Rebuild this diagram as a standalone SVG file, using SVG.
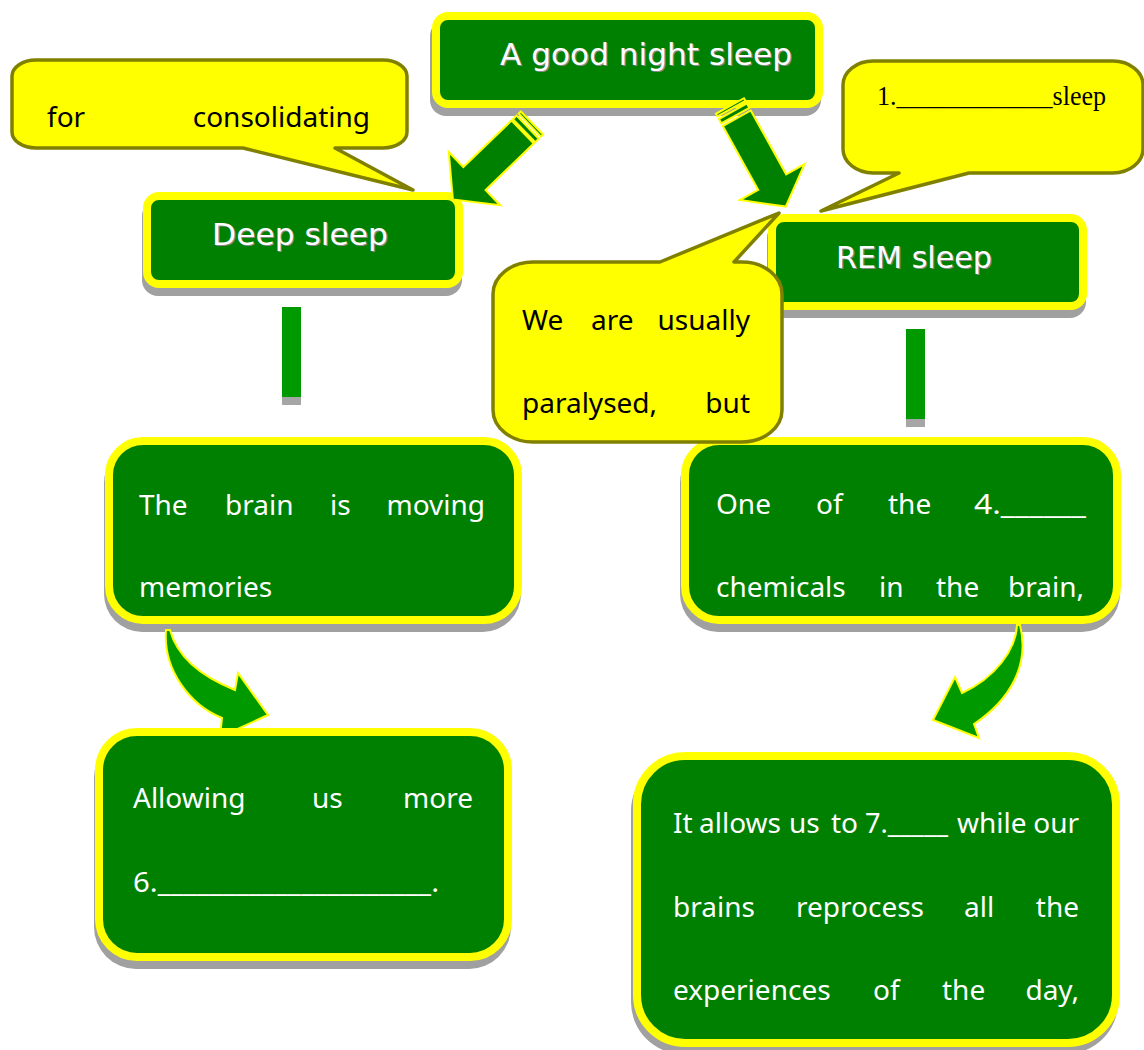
<svg xmlns="http://www.w3.org/2000/svg" width="1144" height="1050" viewBox="0 0 1144 1050">
  <style>
    .shadow { fill: #A0A0A0; }
    .box { fill: #008000; stroke: #FFFF00; stroke-width: 8; }
    .title { font-family: "DejaVu Sans", "Liberation Sans", sans-serif; font-size: 30px; fill: #FFFFFF; }
    .title-sh { font-family: "DejaVu Sans", "Liberation Sans", sans-serif; font-size: 30px; fill: #8A8A8A; }
    .body { font-family: "Noto Sans", "Open Sans", sans-serif; font-size: 28px; fill: #FFFFFF; }
    .callout { fill: #FFFF00; stroke: #808000; stroke-width: 3.5; stroke-linejoin: round; }
    .ctext { font-family: "Noto Sans", "Open Sans", sans-serif; font-size: 28px; fill: #000000; }
    .serif { font-family: "Liberation Serif", "Times New Roman", serif; font-size: 27px; fill: #000000; }
    .bar { fill: #009900; }
    .bar-sh { fill: #A6A6A6; }
    .block { fill: #008000; stroke: #FFFF00; stroke-width: 2; stroke-linejoin: miter; }
    .curve { fill: #009900; stroke: #FFFF00; stroke-width: 2; stroke-linejoin: miter; }
    .end { text-anchor: end; }
  </style>

  <!-- upper nodes -->
  <g id="node-good-night">
    <rect class="shadow" x="430" y="20" width="391" height="96" rx="16"/>
    <rect class="box" x="436" y="16" width="383" height="88" rx="12"/>
    <text class="title-sh" x="501.2" y="66.2" textLength="292" lengthAdjust="spacingAndGlyphs">A good night sleep</text>
    <text class="title" x="500" y="65" textLength="292" lengthAdjust="spacingAndGlyphs">A good night sleep</text>
  </g>

  <g id="node-deep">
    <rect class="shadow" x="142" y="200" width="320" height="96" rx="16"/>
    <rect class="box" x="147" y="196" width="312" height="88" rx="12"/>
    <text class="title-sh" x="213.2" y="246.2" textLength="176" lengthAdjust="spacingAndGlyphs">Deep sleep</text>
    <text class="title" x="212" y="245" textLength="176" lengthAdjust="spacingAndGlyphs">Deep sleep</text>
  </g>

  <g id="node-rem">
    <rect class="shadow" x="767" y="222" width="319" height="96" rx="16"/>
    <rect class="box" x="772" y="218" width="311" height="88" rx="12"/>
    <text class="title-sh" x="837.2" y="269.2" textLength="156" lengthAdjust="spacingAndGlyphs">REM sleep</text>
    <text class="title" x="836" y="268" textLength="156" lengthAdjust="spacingAndGlyphs">REM sleep</text>
  </g>

  <g id="node-brain">
    <rect class="shadow" x="104" y="445" width="417" height="187" rx="38"/>
    <rect class="box" x="109" y="441" width="409" height="179" rx="34"/>
    <text class="body"><tspan x="139" y="515">The</tspan><tspan x="225" y="515">brain</tspan><tspan x="330" y="515">is</tspan><tspan class="end" x="485" y="515">moving</tspan><tspan x="139" y="597">memories</tspan></text>
  </g>

  <g id="node-chemicals">
    <rect class="shadow" x="680" y="445" width="440" height="187" rx="38"/>
    <rect class="box" x="685" y="441" width="432" height="179" rx="34"/>
    <text class="body"><tspan x="716" y="514">One</tspan><tspan x="816" y="514">of</tspan><tspan x="888" y="514">the</tspan><tspan x="974" y="514" textLength="112" lengthAdjust="spacingAndGlyphs">4.______</tspan><tspan x="716" y="597">chemicals</tspan><tspan x="879" y="597">in</tspan><tspan x="936" y="597">the</tspan><tspan class="end" x="1084" y="597">brain,</tspan></text>
  </g>

  <!-- connectors -->
  <g id="connectors">
    <!-- block arrows from the top node -->
    <g transform="translate(532,123) rotate(136)">
      <rect class="block" x="0" y="-16" width="3" height="32"/>
      <rect class="block" x="6" y="-16" width="5" height="32"/>
      <polygon class="block" points="13,-16 80,-16 80,-37 110,0 80,37 80,16 13,16"/>
    </g>
    <g transform="translate(730,106) rotate(61)">
      <rect class="block" x="0" y="-16" width="3" height="32"/>
      <rect class="block" x="6" y="-16" width="5" height="32"/>
      <polygon class="block" points="14,-16 87,-16 87,-37 115,0 87,37 87,16 14,16"/>
    </g>
    <!-- straight bars below the sleep stages -->
    <rect class="bar-sh" x="282" y="397" width="19" height="8"/>
    <rect class="bar" x="282" y="307" width="19" height="90"/>
    <rect class="bar-sh" x="906" y="419" width="19" height="8"/>
    <rect class="bar" x="906" y="329" width="19" height="90"/>
    <!-- curved arrows -->
    <path class="curve" d="M166,630 C163,670 190,705 222,718 L220,737 L268,715 L238,673 L235,690 C205,678 178,660 170,630 Z"/>
    <path class="curve" d="M1017,625 C1016,650 995,678 962,693 L955,677 L933,720 L979,738 L974,724 C1010,700 1030,665 1020,625 Z"/>
  </g>

  <!-- lower nodes -->
  <g id="node-allowing">
    <rect class="shadow" x="94" y="736" width="417" height="233" rx="42"/>
    <rect class="box" x="99" y="732" width="409" height="225" rx="38"/>
    <text class="body"><tspan x="133" y="808">Allowing</tspan><tspan x="312" y="808">us</tspan><tspan class="end" x="473" y="808">more</tspan><tspan x="133" y="892" textLength="306" lengthAdjust="spacingAndGlyphs">6._____________________.</tspan></text>
  </g>

  <g id="node-reprocess">
    <rect class="shadow" x="631" y="759" width="487" height="295" rx="52"/>
    <rect class="box" x="637" y="756" width="479" height="287" rx="48"/>
    <text class="body"><tspan x="673" y="833">It</tspan><tspan x="699" y="833">allows</tspan><tspan x="789" y="833">us</tspan><tspan x="831" y="833">to</tspan><tspan x="865" y="833" textLength="83" lengthAdjust="spacingAndGlyphs">7._____</tspan><tspan x="957" y="833">while</tspan><tspan class="end" x="1079" y="833">our</tspan><tspan x="673" y="917">brains</tspan><tspan x="796" y="917">reprocess</tspan><tspan x="964" y="917">all</tspan><tspan class="end" x="1079" y="917">the</tspan><tspan x="673" y="1000">experiences</tspan><tspan x="873" y="1000">of</tspan><tspan x="942" y="1000">the</tspan><tspan class="end" x="1079" y="1000">day,</tspan></text>
  </g>

  <!-- speech callouts -->
  <g id="callout-consolidating">
    <path class="callout" d="M36,60 H383 A24 16 0 0 1 407,76 V132 A24 16 0 0 1 383,148 H335 L413,190 L243,148 H36 A24 16 0 0 1 12,132 V76 A24 16 0 0 1 36,60 Z"/>
    <text class="ctext"><tspan x="47" y="127">for</tspan><tspan class="end" x="370" y="127">consolidating</tspan></text>
  </g>

  <g id="callout-sleep-type">
    <path class="callout" d="M873,61 H1113 A30 24 0 0 1 1143,85 V149 A30 24 0 0 1 1113,173 H969 L821,211 L899,173 H873 A30 24 0 0 1 843,149 V85 A30 24 0 0 1 873,61 Z"/>
    <text class="serif" x="877" y="105" textLength="229" lengthAdjust="spacingAndGlyphs">1.____________sleep</text>
  </g>

  <g id="callout-paralysed">
    <path class="callout" d="M533,262 H660 L779,213 L734,262 H742 A40 32 0 0 1 782,294 V410 A40 32 0 0 1 742,442 H533 A40 32 0 0 1 493,410 V294 A40 32 0 0 1 533,262 Z"/>
    <text class="ctext"><tspan x="522" y="330">We</tspan><tspan x="591" y="330">are</tspan><tspan class="end" x="750" y="330">usually</tspan><tspan x="522" y="413">paralysed,</tspan><tspan class="end" x="750" y="413">but</tspan></text>
  </g>
</svg>
